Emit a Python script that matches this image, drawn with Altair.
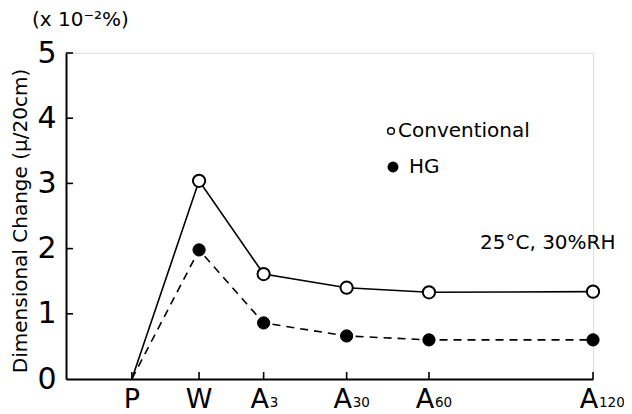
import altair as alt
import pandas as pd

# ---- data ----
stages = ["P", "W", "A3", "A30", "A60", "A120"]
stage_main = ["P", "W", "A", "A", "A", "A"]
stage_sub = ["", "", "3", "30", "60", "120"]
stage_pos = [1.0, 2.02, 3.0, 4.26, 5.51, 8.0]
conventional = [0.0, 3.04, 1.61, 1.40, 1.33, 1.34]
hg = [0.0, 1.98, 0.86, 0.66, 0.60, 0.60]
y_ticks = [1, 2, 3, 4, 5]

FONT = "DejaVu Sans"
W, H = 527, 326

rows = []
for s, p, c, h in zip(stages, stage_pos, conventional, hg):
    rows.append({"stage": s, "pos": p, "value": c, "series": "Conventional"})
    rows.append({"stage": s, "pos": p, "value": h, "series": "HG"})
df = pd.DataFrame(rows)
df_pts = df[df["stage"] != "P"]

lab = pd.DataFrame({"pos": stage_pos, "main": stage_main, "sub": stage_sub})
yt = pd.DataFrame({"v": y_ticks})

xs = alt.Scale(domain=[0, 8.0], nice=False, zero=False)
ys = alt.Scale(domain=[0, 5], nice=False)

xenc = alt.X("pos:Q", scale=xs,
             axis=alt.Axis(labels=False, ticks=False, grid=False, title=None,
                           domainColor="black", domainWidth=2))
yenc = alt.Y("value:Q", scale=ys,
             axis=alt.Axis(values=[0] + y_ticks, format="d", ticks=False, grid=False,
                           title=None, domainColor="black", domainWidth=2,
                           labelFont=FONT, labelFontSize=30, labelColor="black",
                           labelPadding=10, labelBaseline="middle"))

conv_line = alt.Chart(df[df.series == "Conventional"]).mark_line(
    color="black", strokeWidth=1.6).encode(x=xenc, y=yenc)
hg_line = alt.Chart(df[df.series == "HG"]).mark_line(
    color="black", strokeWidth=1.6, strokeDash=[8, 6]).encode(x=xenc, y=yenc)

conv_pts = alt.Chart(df_pts[df_pts.series == "Conventional"]).mark_point(
    shape="circle", filled=True, fill="white", stroke="black", strokeWidth=2,
    size=150, opacity=1).encode(x=xenc, y=yenc)
hg_pts = alt.Chart(df_pts[df_pts.series == "HG"]).mark_point(
    shape="circle", filled=True, fill="black", stroke="black", strokeWidth=1,
    size=150, opacity=1).encode(x=xenc, y=yenc)

# inward ticks
x_ticks = alt.Chart(lab).mark_rule(color="black", strokeWidth=1.6).encode(
    x=alt.X("pos:Q", scale=xs), y=alt.value(H), y2=alt.value(H - 7))
y_tick_rules = alt.Chart(yt).mark_rule(color="black", strokeWidth=1.6).encode(
    y=alt.Y("v:Q", scale=ys), x=alt.value(0), x2=alt.value(7))

x_main_pw = alt.Chart(lab).transform_filter("datum.sub == ''").mark_text(
    font=FONT, fontSize=27, color="black", baseline="top", align="center").encode(
    x=alt.X("pos:Q", scale=xs), y=alt.value(H + 8), text="main:N")
x_main_a = alt.Chart(lab).transform_filter("datum.sub != ''").mark_text(
    font=FONT, fontSize=27, color="black", baseline="top", align="center",
    dx=-4).encode(
    x=alt.X("pos:Q", scale=xs), y=alt.value(H + 8), text="main:N")
x_sub = alt.Chart(lab).transform_filter("datum.sub != ''").mark_text(
    font=FONT, fontSize=13.5, color="black", baseline="alphabetic", align="left",
    dx=6).encode(
    x=alt.X("pos:Q", scale=xs), y=alt.value(H + 28), text="sub:N")

y_title = alt.Chart(pd.DataFrame({"t": ["Dimensional Change (μ/20cm)"]})).mark_text(
    font=FONT, fontSize=20, color="black", angle=270, align="center",
    baseline="middle").encode(x=alt.value(-45), y=alt.value(168), text="t:N")
unit = alt.Chart(pd.DataFrame({"t": ["(x 10⁻²%)"]})).mark_text(
    font=FONT, fontSize=20, color="black", align="left", baseline="middle").encode(
    x=alt.value(-34), y=alt.value(-33), text="t:N")

leg_o = alt.Chart(pd.DataFrame({"k": [0]})).mark_point(
    shape="circle", filled=True, fill="white", stroke="black", strokeWidth=1.5,
    size=45, opacity=1).encode(x=alt.value(325), y=alt.value(78))
leg_f = alt.Chart(pd.DataFrame({"k": [0]})).mark_point(
    shape="circle", filled=True, fill="black", size=120, opacity=1).encode(
    x=alt.value(327), y=alt.value(114))
leg_t1 = alt.Chart(pd.DataFrame({"t": ["Conventional"]})).mark_text(
    font=FONT, fontSize=20, color="black", align="left", baseline="middle").encode(
    x=alt.value(332), y=alt.value(78), text="t:N")
leg_t2 = alt.Chart(pd.DataFrame({"t": ["HG"]})).mark_text(
    font=FONT, fontSize=20, color="black", align="left", baseline="middle").encode(
    x=alt.value(343), y=alt.value(114), text="t:N")
cond = alt.Chart(pd.DataFrame({"t": ["25°C, 30%RH"]})).mark_text(
    font=FONT, fontSize=20, color="black", align="left", baseline="middle").encode(
    x=alt.value(414), y=alt.value(190), text="t:N")

chart = alt.layer(
    conv_line, hg_line, conv_pts, hg_pts, x_ticks, y_tick_rules,
    x_main_pw, x_main_a, x_sub,
    y_title, unit, leg_o, leg_f, leg_t1, leg_t2, cond
).properties(
    width=W, height=H,
    autosize=alt.AutoSizeParams(type="none"),
    padding={"left": 58, "top": 45, "right": 31, "bottom": 35},
).configure_view(stroke=None).configure(background="white")

chart.save("out.html", embed_options={"renderer": "svg", "actions": False})
